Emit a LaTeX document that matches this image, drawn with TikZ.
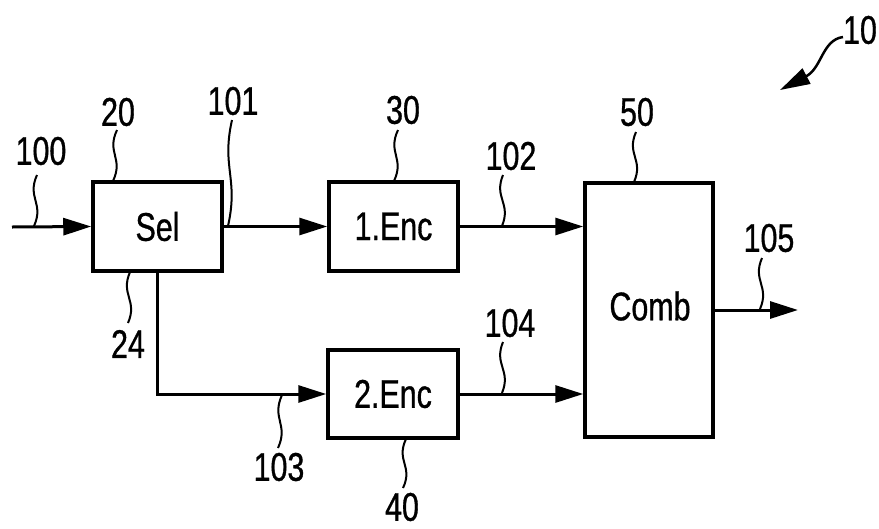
\documentclass[tikz,border=0pt]{standalone}
\usepackage{fontspec}
\setmainfont{Liberation Sans}[FakeStretch=0.76,FakeBold=0.8]
\usetikzlibrary{arrows.meta,calc}
\begin{document}
\begin{tikzpicture}[x=1pt,y=-1pt,
  lbl/.style={font=\fontsize{40}{40}\selectfont, inner sep=0pt},
  blk/.style={draw, line width=3.5pt, rectangle, inner sep=0pt, font=\fontsize{40}{40}\selectfont},
  arr/.style={line width=3pt, -{Triangle[length=28pt,width=17pt]}},
  lead/.style={line width=2pt}]
\useasboundingbox (0,0) rectangle (879,528);
% blocks
\node[blk, minimum width=129pt, minimum height=89pt] (Sel) at (157.5,226.5) {Sel};
\node[blk, minimum width=129pt, minimum height=89pt] (Enc1) at (393.5,226.5) {1.Enc};
\node[blk, minimum width=130pt, minimum height=88pt] (Enc2) at (393,394) {2.Enc};
\node[blk, minimum width=128pt, minimum height=254pt] (Comb) at (649,310) {};
\node[lbl] (CombT) at (650,306) {Comb};
% connectors
\coordinate (in) at (12,227);
\coordinate (out) at (798,310);
\draw[arr] (in) -- (Sel.west);
\draw[arr] (Sel.east) -- (Enc1.west);
\draw[arr] (Enc1.east) -- (Enc1.east -| Comb.west);
\draw[arr] (Sel.south) |- (Enc2.west);
\draw[arr] (Enc2.east) -- (Enc2.east -| Comb.west);
\draw[arr] (Comb.east |- out) -- (out);
% labels
\node[lbl] (n100) at (41,151) {100};
\node[lbl] (n20) at (118,112) {20};
\node[lbl] (n101) at (233,101) {101};
\node[lbl] (n30) at (403,110) {30};
\node[lbl] (n102) at (511,156) {102};
\node[lbl] (n50) at (637,112) {50};
\node[lbl] (n105) at (769,238) {105};
\node[lbl] (n104) at (510,323) {104};
\node[lbl] (n24) at (128,344) {24};
\node[lbl] (n103) at (279,467) {103};
\node[lbl] (n40) at (402,507) {40};
\node[lbl] (n10) at (860,30) {10};
% leader ends
\coordinate (t100) at (37,175);  \coordinate (b100) at (34,226);
\coordinate (t20) at (117,130);  \coordinate (b20) at (113,181);
\coordinate (t101) at (232,120); \coordinate (b101) at (228,226);
\coordinate (t30) at (398,130);  \coordinate (b30) at (394,181);
\coordinate (t102) at (503,175); \coordinate (b102) at (502,226);
\coordinate (t50) at (636,132);  \coordinate (b50) at (634,182);
\coordinate (t105) at (762,258); \coordinate (b105) at (760,309);
\coordinate (t104) at (503,342); \coordinate (b104) at (502,393);
\coordinate (t24) at (130,272);  \coordinate (b24) at (128,323);
\coordinate (t103) at (282,395); \coordinate (b103) at (278,448);
\coordinate (t40) at (406,439);  \coordinate (b40) at (403,488);
\coordinate (t10) at (843,37);   \coordinate (tip10) at (780,90);
\foreach \k in {100,20,101,30,102,50,105,104,24,103,40}{
  \draw[lead] (t\k) .. controls ($(t\k)!0.45!(b\k)+(-9,0)$) and ($(t\k)!0.55!(b\k)+(9,0)$) .. (b\k);
}
\draw[lead, line width=2.5pt, -{Triangle[length=30pt,width=17pt]}] (t10) .. controls (822,40) and (822,68) .. (tip10);
\end{tikzpicture}
\end{document}
